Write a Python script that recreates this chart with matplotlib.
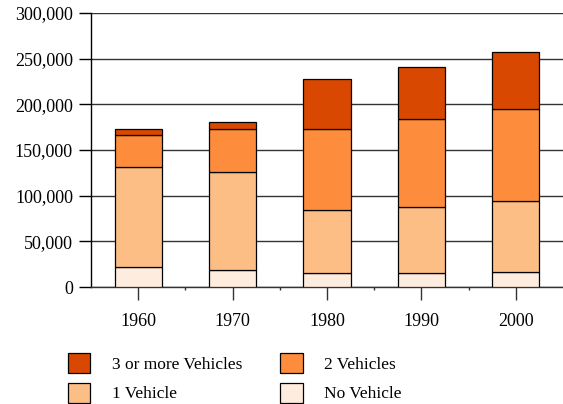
import numpy as np
import matplotlib
matplotlib.use('Agg')
import matplotlib.pyplot as plt
from matplotlib.ticker import FuncFormatter
from matplotlib.patches import Patch

plt.rcParams['font.family'] = ['Liberation Serif', 'DejaVu Serif']

years = ['1960', '1970', '1980', '1990', '2000']
no_vehicle = [22400, 19100, 15800, 15000, 16500]
one_vehicle = [109200, 106700, 68600, 73100, 77500]
two_vehicles = [35100, 46800, 88500, 95400, 100900]
three_plus = [6600, 8300, 54500, 57000, 62200]

series = [
    ('No Vehicle', no_vehicle, '#feedde'),
    ('1 Vehicle', one_vehicle, '#fdbe85'),
    ('2 Vehicles', two_vehicles, '#fd8d3c'),
    ('3 or more Vehicles', three_plus, '#d94801'),
]

fig = plt.figure(figsize=(5.63, 4.04), dpi=100)
ax = fig.add_axes([91 / 563, 1 - 287 / 404, 1 - 91 / 563, (287 - 13) / 404])

x = np.arange(len(years))
bottom = np.zeros(len(years))
handles = {}
for name, vals, col in series:
    ax.bar(x, vals, 0.5, bottom=bottom, color=col, edgecolor='black',
           linewidth=0.9, zorder=3, label=name)
    handles[name] = Patch(facecolor=col, edgecolor='black', linewidth=0.9)
    bottom += np.array(vals)

ax.set_xlim(-0.5, len(years) - 0.5)
ax.set_ylim(0, 300000)
ax.set_yticks(np.arange(0, 300001, 50000))
ax.yaxis.set_major_formatter(FuncFormatter(lambda v, p: f'{int(v):,}'))
ax.set_xticks(x)
ax.set_xticklabels(years)
ax.set_xticks(np.arange(0.5, len(years) - 0.5, 1), minor=True)

ax.grid(axis='y', color='#333333', linewidth=1.0, zorder=0)
ax.set_axisbelow(True)
for s in ['top', 'right']:
    ax.spines[s].set_visible(False)
ax.spines['left'].set_linewidth(1.0)
ax.spines['bottom'].set_color('#333333')
ax.spines['bottom'].set_linewidth(1.0)

ax.tick_params(axis='y', length=9, width=1, pad=4, labelsize=13)
ax.tick_params(axis='x', which='major', length=9, width=1, pad=10,
               labelsize=13, color='#333333')
ax.tick_params(axis='x', which='minor', length=2, width=1, color='#333333')

order = ['3 or more Vehicles', '1 Vehicle', '2 Vehicles', 'No Vehicle']
fig.legend([handles[n] for n in order], order, ncol=2, frameon=False,
           loc='upper left', bbox_to_anchor=(68 / 563, 1 - 353 / 404),
           borderaxespad=0, borderpad=0, fontsize=12.5,
           handlelength=1.27, handleheight=1.4, handletextpad=1.26,
           columnspacing=2.2, labelspacing=0.55)

fig.savefig('out.png', dpi=100)
